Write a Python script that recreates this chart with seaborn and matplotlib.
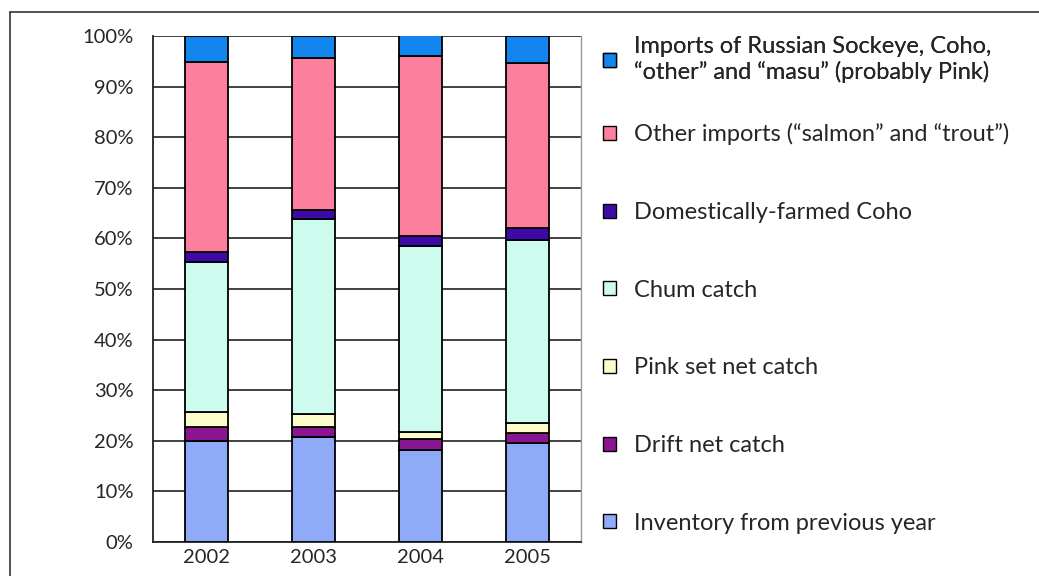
import numpy as np
import pandas as pd
import matplotlib.pyplot as plt
import seaborn as sns
from matplotlib.patches import Patch
from matplotlib.lines import Line2D
from matplotlib.ticker import PercentFormatter

# dados (percentual de cada fonte por ano)
anos = ["2002", "2003", "2004", "2005"]
inventory = [20.0, 20.7, 18.2, 19.5]
drift_net = [2.8, 2.1, 2.1, 2.1]
pink_set_net = [2.8, 2.4, 1.4, 1.9]
chum = [29.8, 38.6, 36.7, 36.2]
coho_farmed = [2.0, 1.9, 2.1, 2.3]
other_imports = [37.5, 30.0, 35.6, 32.6]
russian_imports = [5.1, 4.3, 4.0, 5.4]

rotulos = [
    "Inventory from previous year",
    "Drift net catch",
    "Pink set net catch",
    "Chum catch",
    "Domestically-farmed Coho",
    "Other imports (\u201csalmon\u201d and \u201ctrout\u201d)",
    "Imports of Russian Sockeye, Coho,\n\u201cother\u201d and \u201cmasu\u201d (probably Pink)",
]
cores = ["#8faaf7", "#8a1590", "#fdfccb", "#cdfbed", "#3d0aa8", "#fd7f9e", "#1286ee"]
series = [inventory, drift_net, pink_set_net, chum, coho_farmed, other_imports, russian_imports]

sns.set_style("white")
plt.rcParams["font.family"] = ["Lato", "DejaVu Sans"]

fig = plt.figure(figsize=(10.39, 5.76), dpi=100)
ax = fig.add_axes([153 / 1039, 1 - 542 / 576, 428 / 1039, 506 / 576])

# barras empilhadas
base = np.zeros(len(anos))
for vals, cor in zip(series, cores):
    sns.barplot(x=anos, y=vals, bottom=base, color=cor, saturation=1, width=0.4,
                edgecolor="black", linewidth=1.3, ax=ax, zorder=3)
    base = base + np.array(vals)

ax.set_ylim(0, 100)
ax.set_xlim(-0.5, 3.5)
ax.set_yticks(np.arange(0, 101, 10))
ax.yaxis.set_major_formatter(PercentFormatter(decimals=0))
ax.yaxis.grid(True, color="#333333", linewidth=1.3, zorder=0)
ax.set_axisbelow(True)

ax.set_xticks(np.arange(-0.5, 4, 1), minor=True)
ax.tick_params(axis="x", which="major", length=0, labelsize=14.5, pad=5)
ax.tick_params(axis="x", which="minor", length=6, width=1.3, direction="out", color="#222222")
ax.tick_params(axis="y", length=8, width=1.3, direction="out", labelsize=14.5, pad=6, color="#222222")
ax.set_xlabel("")
ax.set_ylabel("")

for lado in ["left", "bottom"]:
    ax.spines[lado].set_color("#222222")
    ax.spines[lado].set_linewidth(1.3)
ax.spines["top"].set_visible(False)
ax.spines["right"].set_color("#999999")
ax.spines["right"].set_linewidth(1.0)

# legenda em ordem inversa (primeiro item de duas linhas separado)
handles = [Patch(facecolor=c, edgecolor="black", linewidth=1.0) for c in cores][::-1]
labels = rotulos[::-1]
opts = dict(loc="upper left", frameon=False, fontsize=17, handlelength=0.55,
            handleheight=0.55, handletextpad=0.75)
leg1 = fig.legend(handles[:1], labels[:1], bbox_to_anchor=(582 / 1039, 1 - 15 / 576), **opts)
fig.add_artist(leg1)
fig.legend(handles[1:], labels[1:], bbox_to_anchor=(582 / 1039, 1 - 102 / 576),
           labelspacing=2.4, **opts)

# moldura externa
fig.add_artist(Line2D([10 / 1039, 1], [1 - 12 / 576, 1 - 12 / 576], color="#333333", linewidth=1.2))
fig.add_artist(Line2D([10 / 1039, 10 / 1039], [0, 1 - 12 / 576], color="#333333", linewidth=1.2))

fig.savefig("out.png", dpi=100)
